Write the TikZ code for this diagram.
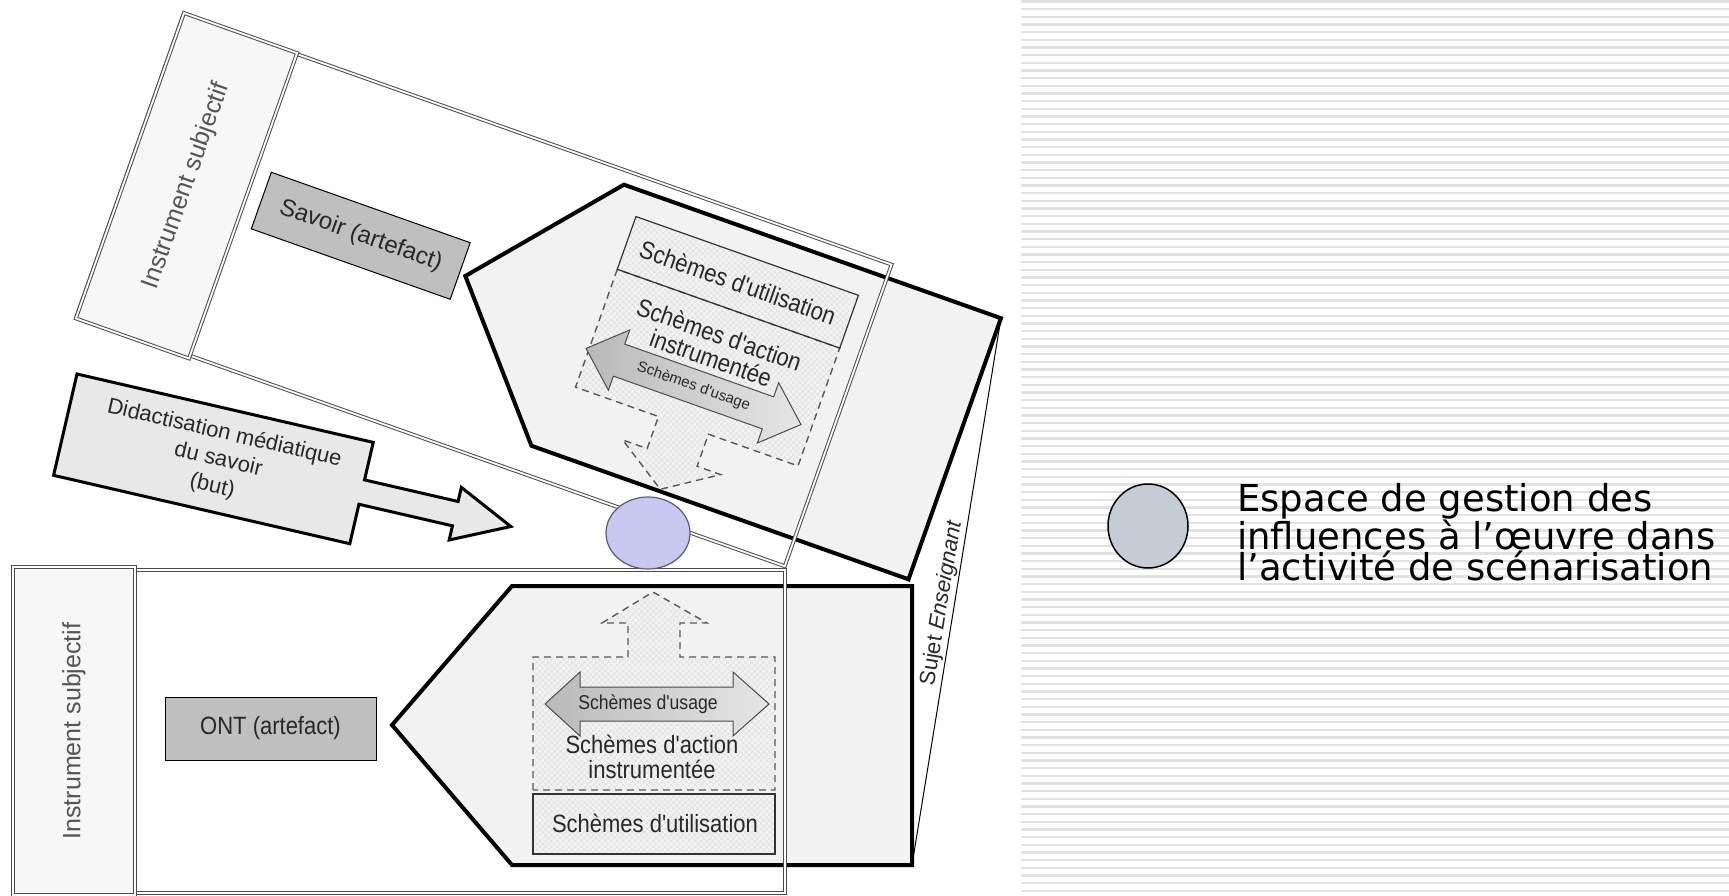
\documentclass[tikz,border=0pt]{standalone}
\usepackage{fontspec}
\setmainfont{Liberation Sans}
\newfontfamily\arialf{Liberation Sans}
\newfontfamily\arialn[FakeStretch=0.88]{Liberation Sans}
\newfontfamily\verdf{DejaVu Sans}
\usetikzlibrary{patterns.meta}
\definecolor{lav}{RGB}{200,200,240}
\definecolor{lavline}{RGB}{90,90,125}
\definecolor{legfill}{RGB}{196,204,214}
\definecolor{stripec}{RGB}{226,226,226}
\definecolor{txtgray}{RGB}{85,85,85}
\definecolor{txtdark}{RGB}{40,40,40}
\begin{document}
\begin{tikzpicture}[x=1pt,y=-1pt,
  frame/.style={draw=black!70, double=white, double distance=1.8pt, line width=1pt},
  stripbox/.style={frame, fill=black!3},
  artbox/.style={draw=black, line width=1pt, fill=gray!50, inner sep=0pt,
    font=\arialn\fontsize{25}{25}\selectfont, text=txtdark},
  penta/.style={draw=black, line width=4pt, fill=gray!10, line join=miter},
  hatchfill/.style={pattern={Hatch[angle=45,distance=4pt,line width=0.4pt]}, pattern color=gray!32},
  dashshape/.style={draw=black!65, dash pattern=on 7pt off 5pt, line width=1.4pt, hatchfill},
  utilbox/.style={draw=black!80, line width=1.2pt, hatchfill},
  usagearrow/.style={draw=black!70, line width=1pt, left color=gray!55, right color=gray!20},
  lbl/.style={font=\arialn\fontsize{25}{25}\selectfont, text=txtdark, align=center, inner sep=0pt},
  striplbl/.style={font=\arialf\fontsize{25}{25}\selectfont, text=txtgray, inner sep=0pt, rotate=90},
  stripeline/.style={draw=stripec, line width=2.2pt}
]
\useasboundingbox (0,0) rectangle (1729,896);
\fill[white] (0,0) rectangle (1729,896);
% striped background on the right
\foreach \k in {0,...,116}
  \draw[stripeline] (1021,{1.5+7.667*\k}) -- (1729,{1.5+7.667*\k});

% ---------------- upper (rotated) assembly ----------------
\begin{scope}[shift={(184,13)}, rotate=-19.5, transform shape]
  \fill[white] (0,1) rectangle (751,321);
  \draw[penta] (353,154) -- (472,15) -- (872,15) -- (872,292) -- (472,292) -- cycle;
  \coordinate (upTR) at (872,15);
  \draw[dashshape] (494,97) -- (494,222) -- (582,222) -- (582,256) -- (556,256)
     -- (608,290) -- (660,256) -- (635,256) -- (635,222) -- (730,222) -- (730,97) -- cycle;
  \draw[utilbox] (494,41) rectangle (730,97);
  \node[lbl] (utilU) at (612,69) {Schèmes d'utilisation};
  \draw[usagearrow] (491,182) -- (526,150) -- (526,165) -- (684,165) -- (684,150) -- (719,182)
     -- (684,214) -- (684,199) -- (526,199) -- (526,214) -- cycle;
  \node[lbl, font=\arialf\fontsize{15}{15}\selectfont] (usageU) at (605,182) {Schèmes d'usage};
  \node[lbl] (actionU) at (612,137) {Schèmes d'action\\instrumentée};
  \draw[frame] (0,1) rectangle (751,321);
  \draw[stripbox] (0,0) rectangle (120,324);
  \node[striplbl] (instU) at (60,162) {Instrument subjectif};
  \node[artbox, minimum width=211pt, minimum height=60pt,
        font=\arialf\fontsize{24}{24}\selectfont] (savoir) at (241,151) {Savoir (artefact)};
\end{scope}

% ---------------- didactisation arrow ----------------
\begin{scope}[shift={(77,374)}, rotate=-13, transform shape]
  \draw[draw=black, line width=3pt, fill=gray!18, line join=miter]
    (0,0) -- (304,0) -- (304,38.5) -- (400,38.5) -- (400,24) -- (457,51) -- (400,78)
    -- (400,63.5) -- (304,63.5) -- (304,104) -- (0,104) -- cycle;
  \node[lbl, font=\arialf\fontsize{22}{27}\selectfont] (didact) at (157,52)
    {Didactisation médiatique\\du savoir\\(but)};
\end{scope}

% ---------------- lower assembly ----------------
\fill[white] (13,570) rectangle (785,893);
\draw[penta] (392,725) -- (512,586) -- (912,586) -- (912,865) -- (512,865) -- cycle;
\coordinate (loBR) at (912,865);
\draw[dashshape] (533,790) -- (533,657) -- (628,657) -- (628,623) -- (602,623) -- (653,592)
   -- (707,623) -- (680,623) -- (680,657) -- (775,657) -- (775,790) -- cycle;
\draw[utilbox] (533,794) rectangle (775,854);
\node[lbl] (utilL) at (655,823) {Schèmes d'utilisation};
\draw[usagearrow] (545,704) -- (580,672) -- (580,687) -- (733,687) -- (733,672) -- (769,704)
   -- (733,736) -- (733,721) -- (580,721) -- (580,736) -- cycle;
\node[lbl, font=\arialn\fontsize{20}{20}\selectfont] (usageL) at (648,704) {Schèmes d'usage};
\node[lbl] (actionL) at (652,757) {Schèmes d'action\\instrumentée};
\draw[frame] (13,570) rectangle (785,893);
\draw[stripbox] (13,567) rectangle (135,895);
\node[striplbl] (instL) at (74,731) {Instrument subjectif};
\node[artbox, minimum width=211pt, minimum height=63pt] (ont) at (270.5,728.5) {ONT (artefact)};

% ---------------- Sujet Enseignant ----------------
\draw[black, line width=1pt] (upTR) -- (loBR);
\node[inner sep=0pt, rotate=80.6, font=\arialf\fontsize{22}{22}\selectfont, text=txtdark]
  (sujet) at (942,603) {Sujet \textit{Enseignant}};

% ---------------- influence circle ----------------
\draw[lavline, line width=1.2pt, fill=lav] (648,533) ellipse [x radius=42, y radius=36];

% ---------------- legend ----------------
\draw[black, line width=1.5pt, fill=legfill] (1148,526) ellipse [x radius=40, y radius=42];
\node[anchor=west, inner sep=0pt, align=left, font=\verdf\fontsize{37}{31}\selectfont]
  (legend) at (1237,532)
  {Espace de gestion des\\influences à l’œuvre dans\\l’activité de scénarisation};
\end{tikzpicture}
\end{document}
